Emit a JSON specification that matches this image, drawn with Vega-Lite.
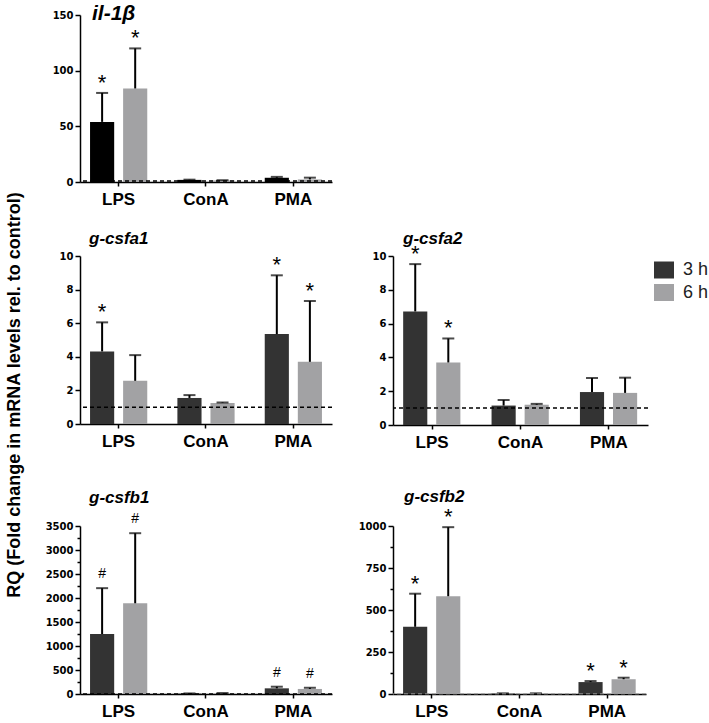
{
  "$schema": "https://vega.github.io/schema/vega-lite/v6.json",
  "padding": {"top": 3, "left": 5, "right": 2, "bottom": 2},
  "datasets": {
    "expr": [
      {"gene": "il-1β", "treatment": "LPS", "time": "3 h", "value": 54, "hi": 80, "sig": "*"},
      {"gene": "il-1β", "treatment": "LPS", "time": "6 h", "value": 84, "hi": 120, "sig": "*"},
      {"gene": "il-1β", "treatment": "ConA", "time": "3 h", "value": 1.9, "hi": 2.1, "sig": ""},
      {"gene": "il-1β", "treatment": "ConA", "time": "6 h", "value": 1.4, "hi": 1.6, "sig": ""},
      {"gene": "il-1β", "treatment": "PMA", "time": "3 h", "value": 3.8, "hi": 4.6, "sig": ""},
      {"gene": "il-1β", "treatment": "PMA", "time": "6 h", "value": 2.3, "hi": 3.9, "sig": ""},
      {"gene": "g-csfa1", "treatment": "LPS", "time": "3 h", "value": 4.32, "hi": 6.05, "sig": "*"},
      {"gene": "g-csfa1", "treatment": "LPS", "time": "6 h", "value": 2.57, "hi": 4.1, "sig": ""},
      {"gene": "g-csfa1", "treatment": "ConA", "time": "3 h", "value": 1.55, "hi": 1.72, "sig": ""},
      {"gene": "g-csfa1", "treatment": "ConA", "time": "6 h", "value": 1.25, "hi": 1.28, "sig": ""},
      {"gene": "g-csfa1", "treatment": "PMA", "time": "3 h", "value": 5.35, "hi": 8.85, "sig": "*"},
      {"gene": "g-csfa1", "treatment": "PMA", "time": "6 h", "value": 3.7, "hi": 7.32, "sig": "*"},
      {"gene": "g-csfa2", "treatment": "LPS", "time": "3 h", "value": 6.72, "hi": 9.52, "sig": "*"},
      {"gene": "g-csfa2", "treatment": "LPS", "time": "6 h", "value": 3.7, "hi": 5.12, "sig": "*"},
      {"gene": "g-csfa2", "treatment": "ConA", "time": "3 h", "value": 1.15, "hi": 1.48, "sig": ""},
      {"gene": "g-csfa2", "treatment": "ConA", "time": "6 h", "value": 1.2, "hi": 1.25, "sig": ""},
      {"gene": "g-csfa2", "treatment": "PMA", "time": "3 h", "value": 1.95, "hi": 2.78, "sig": ""},
      {"gene": "g-csfa2", "treatment": "PMA", "time": "6 h", "value": 1.9, "hi": 2.8, "sig": ""},
      {"gene": "g-csfb1", "treatment": "LPS", "time": "3 h", "value": 1250, "hi": 2205, "sig": "#"},
      {"gene": "g-csfb1", "treatment": "LPS", "time": "6 h", "value": 1890, "hi": 3350, "sig": "#"},
      {"gene": "g-csfb1", "treatment": "ConA", "time": "3 h", "value": 8, "hi": 12, "sig": ""},
      {"gene": "g-csfb1", "treatment": "ConA", "time": "6 h", "value": 15, "hi": 20, "sig": ""},
      {"gene": "g-csfb1", "treatment": "PMA", "time": "3 h", "value": 118, "hi": 152, "sig": "#"},
      {"gene": "g-csfb1", "treatment": "PMA", "time": "6 h", "value": 105, "hi": 130, "sig": "#"},
      {"gene": "g-csfb2", "treatment": "LPS", "time": "3 h", "value": 400, "hi": 597, "sig": "*"},
      {"gene": "g-csfb2", "treatment": "LPS", "time": "6 h", "value": 582, "hi": 993, "sig": "*"},
      {"gene": "g-csfb2", "treatment": "ConA", "time": "3 h", "value": 3, "hi": 4, "sig": ""},
      {"gene": "g-csfb2", "treatment": "ConA", "time": "6 h", "value": 3, "hi": 4, "sig": ""},
      {"gene": "g-csfb2", "treatment": "PMA", "time": "3 h", "value": 71, "hi": 77, "sig": "*"},
      {"gene": "g-csfb2", "treatment": "PMA", "time": "6 h", "value": 88, "hi": 97, "sig": "*"}
    ]
  },
  "title": {"text": "RQ (Fold change in mRNA levels rel. to control)", "orient": "left", "anchor": "middle", "frame": "bounds", "fontSize": 18, "fontWeight": "bold", "fontStyle": "normal", "font": "Liberation Sans", "color": "black", "offset": 21, "dx": -34},
  "config": {
    "font": "Liberation Sans",
    "view": {"stroke": null},
    "title": {"font": "Liberation Sans", "color": "black", "fontWeight": "bold", "fontStyle": "italic", "anchor": "start", "baseline": "alphabetic", "frame": "group"},
    "axis": {"grid": false, "domainColor": "black", "tickColor": "black", "labelColor": "black", "domainWidth": 1.5, "tickWidth": 1.5, "labelFontWeight": "bold", "title": null, "labelOverlap": false},
    "axisY": {"tickSize": 5, "labelFont": "DejaVu Sans", "labelFontSize": 10, "labelPadding": 2, "minExtent": 35, "labelOverlap": false, "tickCount": 50},
    "axisX": {"tickSize": 4, "labelFont": "Liberation Sans", "labelFontSize": 17, "labelPadding": 5, "labelAngle": 0},
    "bar": {"stroke": null}
  },
  "resolve": {"scale": {"color": "independent"}, "legend": {"color": "independent"}},
  "spacing": 37,
  "vconcat": [
    {
      "spacing": 23,
      "resolve": {"scale": {"color": "independent"}, "legend": {"color": "independent"}},
      "vconcat": [
        {
          "width": 252, "height": 167,
          "title": {"text": "il-1β", "fontSize": 21, "offset": -14, "dx": 12},
          "data": {"name": "expr"},
          "transform": [{"filter": "datum.gene === 'il-1β'"}],
          "layer": [
            {"mark": "bar", "encoding": {
              "x": {"field": "treatment", "type": "nominal", "sort": ["LPS", "ConA", "PMA"], "scale": {"paddingInner": 0.345, "paddingOuter": 0.115}, "axis": {"title": null}},
              "xOffset": {"field": "time", "type": "nominal", "scale": {"paddingInner": 0.27, "paddingOuter": 0}},
              "y": {"field": "value", "type": "quantitative", "scale": {"domain": [0, 150], "nice": false}, "axis": {"title": null, "values": [0, 50, 100, 150], "tickCount": 50, "format": "d", "labelOverlap": false}},
              "color": {"field": "time", "type": "nominal", "scale": {"domain": ["3 h", "6 h"], "range": ["#000000", "#a2a2a4"]}, "legend": null}}},
            {"mark": {"type": "rule", "color": "black", "strokeWidth": 2}, "encoding": {
              "x": {"field": "treatment", "type": "nominal", "sort": ["LPS", "ConA", "PMA"]},
              "xOffset": {"field": "time", "type": "nominal"},
              "y": {"field": "value", "type": "quantitative"}, "y2": {"field": "hi"}}},
            {"mark": {"type": "tick", "color": "black", "thickness": 2, "size": 12}, "encoding": {
              "x": {"field": "treatment", "type": "nominal", "sort": ["LPS", "ConA", "PMA"]},
              "xOffset": {"field": "time", "type": "nominal"},
              "y": {"field": "hi", "type": "quantitative"}}},
            {"transform": [{"filter": "datum.sig === '*'"}], "mark": {"type": "text", "fontSize": 22, "baseline": "alphabetic", "dy": -3, "color": "black"}, "encoding": {
              "x": {"field": "treatment", "type": "nominal", "sort": ["LPS", "ConA", "PMA"]},
              "xOffset": {"field": "time", "type": "nominal"},
              "y": {"field": "hi", "type": "quantitative"}, "text": {"field": "sig"}}},
            {"data": {"values": [{"ref": 1}]}, "mark": {"type": "rule", "color": "black", "strokeDash": [4, 3], "strokeWidth": 1.5}, "encoding": {"y": {"field": "ref", "type": "quantitative"}}}
          ]
        },
        {
          "spacing": 25,
          "resolve": {"scale": {"color": "independent"}, "legend": {"color": "independent"}},
          "hconcat": [
            {
              "width": 252, "height": 168,
              "title": {"text": "g-csfa1", "fontSize": 17, "offset": 2.6, "dx": 9},
              "data": {"name": "expr"},
              "transform": [{"filter": "datum.gene === 'g-csfa1'"}],
              "layer": [
                {"mark": "bar", "encoding": {
                  "x": {"field": "treatment", "type": "nominal", "sort": ["LPS", "ConA", "PMA"], "scale": {"paddingInner": 0.345, "paddingOuter": 0.115}, "axis": {"title": null}},
                  "xOffset": {"field": "time", "type": "nominal", "scale": {"paddingInner": 0.27, "paddingOuter": 0}},
                  "y": {"field": "value", "type": "quantitative", "scale": {"domain": [0, 10], "nice": false}, "axis": {"title": null, "values": [0, 2, 4, 6, 8, 10], "tickCount": 50, "format": "d", "labelOverlap": false}},
                  "color": {"field": "time", "type": "nominal", "scale": {"domain": ["3 h", "6 h"], "range": ["#333333", "#a2a2a4"]}, "legend": null}}},
                {"mark": {"type": "rule", "color": "black", "strokeWidth": 2}, "encoding": {
                  "x": {"field": "treatment", "type": "nominal", "sort": ["LPS", "ConA", "PMA"]},
                  "xOffset": {"field": "time", "type": "nominal"},
                  "y": {"field": "value", "type": "quantitative"}, "y2": {"field": "hi"}}},
                {"mark": {"type": "tick", "color": "black", "thickness": 2, "size": 12}, "encoding": {
                  "x": {"field": "treatment", "type": "nominal", "sort": ["LPS", "ConA", "PMA"]},
                  "xOffset": {"field": "time", "type": "nominal"},
                  "y": {"field": "hi", "type": "quantitative"}}},
                {"transform": [{"filter": "datum.sig === '*'"}], "mark": {"type": "text", "fontSize": 22, "baseline": "alphabetic", "dy": -3, "color": "black"}, "encoding": {
                  "x": {"field": "treatment", "type": "nominal", "sort": ["LPS", "ConA", "PMA"]},
                  "xOffset": {"field": "time", "type": "nominal"},
                  "y": {"field": "hi", "type": "quantitative"}, "text": {"field": "sig"}}},
                {"data": {"values": [{"ref": 1}]}, "mark": {"type": "rule", "color": "black", "strokeDash": [4, 3], "strokeWidth": 1.5}, "encoding": {"y": {"field": "ref", "type": "quantitative"}}}
              ]
            },
            {
              "width": 255, "height": 169,
              "title": {"text": "g-csfa2", "fontSize": 17, "offset": -4.9, "dx": 10},
              "data": {"name": "expr"},
              "transform": [{"filter": "datum.gene === 'g-csfa2'"}],
              "layer": [
                {"mark": "bar", "encoding": {
                  "x": {"field": "treatment", "type": "nominal", "sort": ["LPS", "ConA", "PMA"], "scale": {"paddingInner": 0.345, "paddingOuter": 0.115}, "axis": {"title": null}},
                  "xOffset": {"field": "time", "type": "nominal", "scale": {"paddingInner": 0.27, "paddingOuter": 0}},
                  "y": {"field": "value", "type": "quantitative", "scale": {"domain": [0, 10], "nice": false}, "axis": {"title": null, "values": [0, 2, 4, 6, 8, 10], "tickCount": 50, "format": "d", "labelOverlap": false}},
                  "color": {"field": "time", "type": "nominal", "scale": {"domain": ["3 h", "6 h"], "range": ["#333333", "#a2a2a4"]},
                    "legend": {"title": null, "orient": "none", "legendX": 261, "legendY": 4, "padding": 0, "symbolType": "M-1,-0.85H1V0.85H-1Z", "symbolSize": 400, "symbolStrokeWidth": 0, "labelFontSize": 18, "labelFont": "Liberation Sans", "labelColor": "#222222", "labelFontWeight": "normal", "labelOffset": 9, "rowPadding": 3.5}}}},
                {"mark": {"type": "rule", "color": "black", "strokeWidth": 2}, "encoding": {
                  "x": {"field": "treatment", "type": "nominal", "sort": ["LPS", "ConA", "PMA"]},
                  "xOffset": {"field": "time", "type": "nominal"},
                  "y": {"field": "value", "type": "quantitative"}, "y2": {"field": "hi"}}},
                {"mark": {"type": "tick", "color": "black", "thickness": 2, "size": 12}, "encoding": {
                  "x": {"field": "treatment", "type": "nominal", "sort": ["LPS", "ConA", "PMA"]},
                  "xOffset": {"field": "time", "type": "nominal"},
                  "y": {"field": "hi", "type": "quantitative"}}},
                {"transform": [{"filter": "datum.sig === '*'"}], "mark": {"type": "text", "fontSize": 22, "baseline": "alphabetic", "dy": -3, "color": "black"}, "encoding": {
                  "x": {"field": "treatment", "type": "nominal", "sort": ["LPS", "ConA", "PMA"]},
                  "xOffset": {"field": "time", "type": "nominal"},
                  "y": {"field": "hi", "type": "quantitative"}, "text": {"field": "sig"}}},
                {"data": {"values": [{"ref": 1}]}, "mark": {"type": "rule", "color": "black", "strokeDash": [4, 3], "strokeWidth": 1.5}, "encoding": {"y": {"field": "ref", "type": "quantitative"}}}
              ]
            }
          ]
        }
      ]
    },
    {
      "spacing": 25,
      "resolve": {"scale": {"color": "independent"}, "legend": {"color": "independent"}},
      "hconcat": [
        {
          "width": 252, "height": 168,
          "title": {"text": "g-csfb1", "fontSize": 17, "offset": 5.6, "dx": 9},
          "data": {"name": "expr"},
          "transform": [{"filter": "datum.gene === 'g-csfb1'"}],
          "layer": [
            {"mark": "bar", "encoding": {
              "x": {"field": "treatment", "type": "nominal", "sort": ["LPS", "ConA", "PMA"], "scale": {"paddingInner": 0.345, "paddingOuter": 0.115}, "axis": {"title": null}},
              "xOffset": {"field": "time", "type": "nominal", "scale": {"paddingInner": 0.27, "paddingOuter": 0}},
              "y": {"field": "value", "type": "quantitative", "scale": {"domain": [0, 3500], "nice": false}, "axis": {"title": null, "values": [0, 250, 500, 750, 1000, 1250, 1500, 1750, 2000, 2250, 2500, 2750, 3000, 3250, 3500], "tickCount": 50, "format": "d", "labelOverlap": false, "labelExpr": "datum.value % 500 === 0 ? datum.label : ''", "tickSize": {"condition": {"test": "datum.value % 500 === 0", "value": 5}, "value": 3}}},
              "color": {"field": "time", "type": "nominal", "scale": {"domain": ["3 h", "6 h"], "range": ["#333333", "#a2a2a4"]}, "legend": null}}},
            {"mark": {"type": "rule", "color": "black", "strokeWidth": 2}, "encoding": {
              "x": {"field": "treatment", "type": "nominal", "sort": ["LPS", "ConA", "PMA"]},
              "xOffset": {"field": "time", "type": "nominal"},
              "y": {"field": "value", "type": "quantitative"}, "y2": {"field": "hi"}}},
            {"mark": {"type": "tick", "color": "black", "thickness": 2, "size": 12}, "encoding": {
              "x": {"field": "treatment", "type": "nominal", "sort": ["LPS", "ConA", "PMA"]},
              "xOffset": {"field": "time", "type": "nominal"},
              "y": {"field": "hi", "type": "quantitative"}}},
            {"transform": [{"filter": "datum.sig === '#'"}], "mark": {"type": "text", "fontSize": 14, "baseline": "alphabetic", "dy": -10, "color": "black"}, "encoding": {
              "x": {"field": "treatment", "type": "nominal", "sort": ["LPS", "ConA", "PMA"]},
              "xOffset": {"field": "time", "type": "nominal"},
              "y": {"field": "hi", "type": "quantitative"}, "text": {"field": "sig"}}},
            {"data": {"values": [{"ref": 1}]}, "mark": {"type": "rule", "color": "black", "strokeDash": [4, 3], "strokeWidth": 1.5}, "encoding": {"y": {"field": "ref", "type": "quantitative"}}}
          ]
        },
        {
          "width": 253, "height": 168,
          "title": {"text": "g-csfb2", "fontSize": 17, "offset": 0.2, "dx": 11},
          "data": {"name": "expr"},
          "transform": [{"filter": "datum.gene === 'g-csfb2'"}],
          "layer": [
            {"mark": "bar", "encoding": {
              "x": {"field": "treatment", "type": "nominal", "sort": ["LPS", "ConA", "PMA"], "scale": {"paddingInner": 0.345, "paddingOuter": 0.115}, "axis": {"title": null}},
              "xOffset": {"field": "time", "type": "nominal", "scale": {"paddingInner": 0.27, "paddingOuter": 0}},
              "y": {"field": "value", "type": "quantitative", "scale": {"domain": [0, 1000], "nice": false}, "axis": {"title": null, "values": [0, 125, 250, 375, 500, 625, 750, 875, 1000], "tickCount": 50, "format": "d", "labelOverlap": false, "labelExpr": "datum.value % 250 === 0 ? datum.label : ''", "tickSize": {"condition": {"test": "datum.value % 250 === 0", "value": 5}, "value": 3}}},
              "color": {"field": "time", "type": "nominal", "scale": {"domain": ["3 h", "6 h"], "range": ["#333333", "#a2a2a4"]}, "legend": null}}},
            {"mark": {"type": "rule", "color": "black", "strokeWidth": 2}, "encoding": {
              "x": {"field": "treatment", "type": "nominal", "sort": ["LPS", "ConA", "PMA"]},
              "xOffset": {"field": "time", "type": "nominal"},
              "y": {"field": "value", "type": "quantitative"}, "y2": {"field": "hi"}}},
            {"mark": {"type": "tick", "color": "black", "thickness": 2, "size": 12}, "encoding": {
              "x": {"field": "treatment", "type": "nominal", "sort": ["LPS", "ConA", "PMA"]},
              "xOffset": {"field": "time", "type": "nominal"},
              "y": {"field": "hi", "type": "quantitative"}}},
            {"transform": [{"filter": "datum.sig === '*'"}], "mark": {"type": "text", "fontSize": 22, "baseline": "alphabetic", "dy": -3, "color": "black"}, "encoding": {
              "x": {"field": "treatment", "type": "nominal", "sort": ["LPS", "ConA", "PMA"]},
              "xOffset": {"field": "time", "type": "nominal"},
              "y": {"field": "hi", "type": "quantitative"}, "text": {"field": "sig"}}},
            {"data": {"values": [{"ref": 1}]}, "mark": {"type": "rule", "color": "#999999", "strokeDash": [4, 3], "strokeWidth": 1}, "encoding": {"y": {"field": "ref", "type": "quantitative"}}}
          ]
        }
      ]
    }
  ]
}
